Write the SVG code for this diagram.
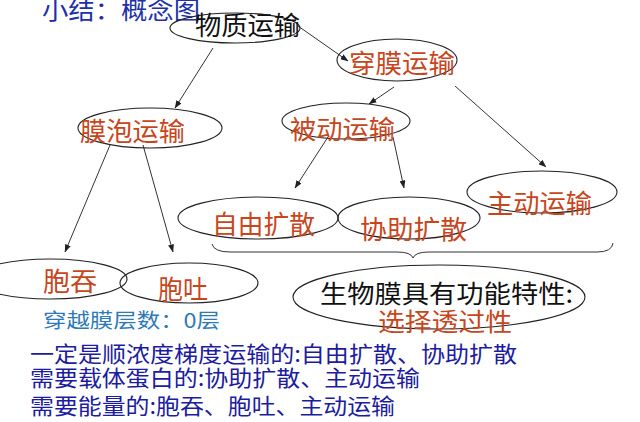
<svg xmlns="http://www.w3.org/2000/svg" width="640" height="422" viewBox="0 0 640 422">
<defs>
<marker id="ah" markerWidth="8" markerHeight="6" refX="7.5" refY="3" orient="auto" markerUnits="userSpaceOnUse">
<path d="M0,0 L8,3 L0,6 Z" fill="#222"/>
</marker>
<style>
text{font-family:"Noto Sans CJK SC","Noto Sans CJK JP",sans-serif;}
.el{fill:none;stroke:#222;stroke-width:1.1;}
.k{fill:#111;font-size:26px;}
.r{fill:#c8461c;font-size:26px;}
.b{fill:#1c1ca0;font-size:22px;}
.c{stroke:#333;stroke-width:1;fill:none;marker-end:url(#ah);}
</style>
</defs>
<rect width="640" height="422" fill="#fff"/>
<text x="42" y="19" style="fill:#2030a8;font-size:24px" textLength="158" lengthAdjust="spacingAndGlyphs">小结：概念图</text>

<g id="connectors">
<line class="c" x1="213" y1="48" x2="175" y2="108"/>
<line class="c" x1="298" y1="26" x2="348" y2="61"/>
<line class="c" x1="394" y1="87" x2="369" y2="104"/>
<line class="c" x1="455" y1="86" x2="546" y2="167"/>
<line class="c" x1="328" y1="137" x2="295" y2="188"/>
<line class="c" x1="393" y1="137" x2="404" y2="188"/>
<line class="c" x1="110" y1="145" x2="65" y2="252"/>
<line class="c" x1="143" y1="145" x2="173" y2="252"/>
<path d="M212,244 Q214,252 230,252 L397,252 Q411,252 413,258 Q415,252 429,252 L597,252 Q612,252 613,243" fill="none" stroke="#333" stroke-width="1"/>
</g>

<g id="n-wuzhi">
<ellipse class="el" cx="235" cy="28" rx="65" ry="15"/>
<text class="k" x="195" y="35" textLength="105" lengthAdjust="spacingAndGlyphs">物质运输</text>
</g>
<g id="n-chuanmo">
<ellipse class="el" cx="397" cy="60" rx="60" ry="21"/>
<text class="r" x="349" y="73" textLength="106" lengthAdjust="spacingAndGlyphs">穿膜运输</text>
</g>
<g id="n-mopao">
<ellipse class="el" cx="150" cy="128" rx="72" ry="20"/>
<text class="r" x="80" y="141" textLength="105" lengthAdjust="spacingAndGlyphs">膜泡运输</text>
</g>
<g id="n-beidong">
<ellipse class="el" cx="346" cy="121" rx="64" ry="18"/>
<text class="r" x="290" y="139" textLength="105" lengthAdjust="spacingAndGlyphs">被动运输</text>
</g>
<g id="n-ziyou">
<ellipse class="el" cx="258" cy="218" rx="80" ry="21"/>
<text class="r" x="212" y="234" textLength="103" lengthAdjust="spacingAndGlyphs">自由扩散</text>
</g>
<g id="n-xiezhu">
<ellipse class="el" cx="409" cy="218" rx="71" ry="21"/>
<text class="r" x="360" y="239" textLength="107" lengthAdjust="spacingAndGlyphs">协助扩散</text>
</g>
<g id="n-zhudong">
<ellipse class="el" cx="542" cy="192" rx="75" ry="21"/>
<text class="r" x="487" y="213" textLength="105" lengthAdjust="spacingAndGlyphs">主动运输</text>
</g>
<g id="n-baotun">
<ellipse class="el" cx="50" cy="279" rx="77" ry="20"/>
<text class="r" x="43" y="291" textLength="54" lengthAdjust="spacingAndGlyphs">胞吞</text>
</g>
<g id="n-baotu">
<ellipse class="el" cx="189" cy="283" rx="69" ry="20"/>
<text class="r" x="158" y="299" textLength="50" lengthAdjust="spacingAndGlyphs">胞吐</text>
</g>
<g id="n-shengwumo">
<ellipse class="el" cx="439" cy="297" rx="146" ry="32"/>
<text class="k" x="320" y="303" style="font-size:25px" textLength="253" lengthAdjust="spacingAndGlyphs">生物膜具有功能特性:</text>
<text class="r" x="378" y="331" style="font-size:25px" textLength="134" lengthAdjust="spacingAndGlyphs">选择透过性</text>
</g>

<text x="43" y="328" style="fill:#2d7ab8;font-size:20px" textLength="177" lengthAdjust="spacingAndGlyphs">穿越膜层数：0层</text>
<text class="b" x="30" y="362" textLength="487" lengthAdjust="spacingAndGlyphs">一定是顺浓度梯度运输的:自由扩散、协助扩散</text>
<text class="b" x="30" y="386" textLength="390" lengthAdjust="spacingAndGlyphs">需要载体蛋白的:协助扩散、主动运输</text>
<text class="b" x="30" y="414" textLength="365" lengthAdjust="spacingAndGlyphs">需要能量的:胞吞、胞吐、主动运输</text>
</svg>
